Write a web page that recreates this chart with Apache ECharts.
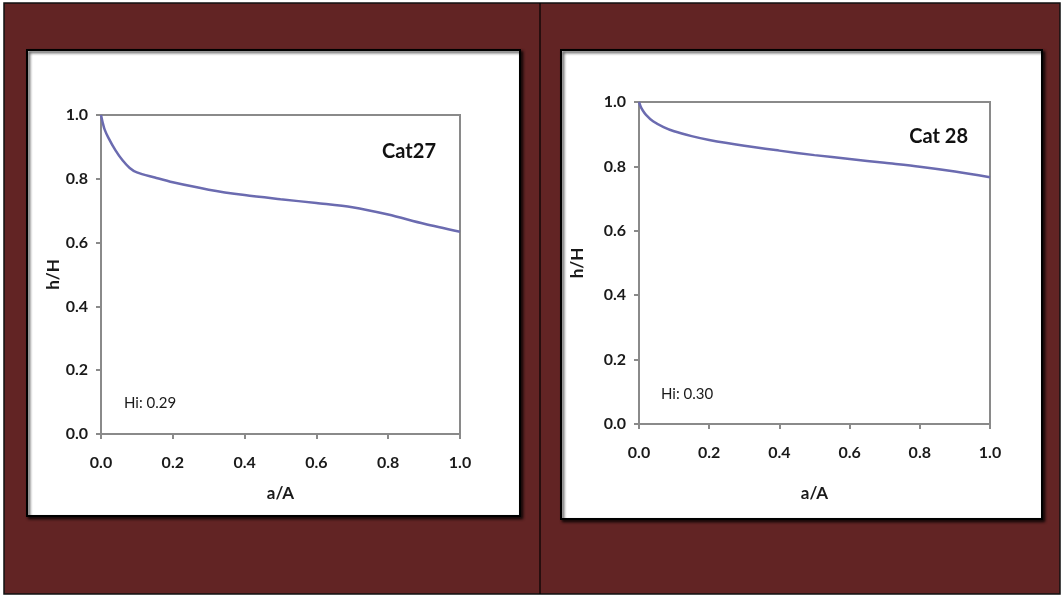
<!DOCTYPE html>
<html>
<head>
<meta charset="utf-8">
<script src="https://cdn.jsdelivr.net/npm/echarts@6/dist/echarts.min.js"></script>
<style>
html,body{margin:0;padding:0;background:#fff;}
#c{width:1062px;height:595px;}
</style>
</head>
<body>
<div id="c"></div>
<script>
// ---- data ----
const cat27X = [0, 0.005, 0.01, 0.02, 0.04, 0.06, 0.08, 0.1, 0.15, 0.2, 0.3, 0.4, 0.5, 0.6, 0.7, 0.8, 0.9, 1.0];
const cat27Y = [1.0, 0.975, 0.955, 0.93, 0.89, 0.858, 0.834, 0.82, 0.804, 0.789, 0.766, 0.749, 0.736, 0.724, 0.711, 0.688, 0.659, 0.634];
const cat28X = [0, 0.005, 0.01, 0.02, 0.04, 0.07, 0.1, 0.15, 0.2, 0.3, 0.4, 0.5, 0.6, 0.7, 0.8, 0.9, 1.0];
const cat28Y = [1.0, 0.985, 0.975, 0.96, 0.94, 0.922, 0.909, 0.894, 0.882, 0.864, 0.849, 0.835, 0.823, 0.811, 0.799, 0.784, 0.766];
const chartTitles = ['Cat27', 'Cat 28'];
const hiLabels = ['Hi: 0.29', 'Hi: 0.30'];
const xName = 'a/A';
const yName = 'h/H';

const pairs = (xs, ys) => xs.map((x, i) => [x, ys[i]]);

const FONT = 'Lato, "Open Sans", sans-serif';
const AXIS_GRAY = '#8a8a8a';
const LINE_COLOR = '#6b6bb0';

function xAxis(gridIndex, gap) {
  return {
    gridIndex, type: 'value', min: 0, max: 1, interval: 0.2,
    name: xName, nameLocation: 'middle', nameGap: gap,
    nameTextStyle: {fontFamily: FONT, fontWeight: 'bold', fontSize: 17, color: '#1a1a1a'},
    axisLine: {show: true, lineStyle: {color: AXIS_GRAY, width: 2}},
    axisTick: {show: true, length: 5, lineStyle: {color: AXIS_GRAY, width: 2}},
    axisLabel: {margin: 21, fontFamily: FONT, fontWeight: 'bold', fontSize: 16, color: '#1a1a1a',
      formatter: v => v.toFixed(1)},
    splitLine: {show: false}
  };
}
function yAxis(gridIndex, gap) {
  return {
    gridIndex, type: 'value', min: 0, max: 1, interval: 0.2,
    name: yName, nameLocation: 'middle', nameGap: gap, nameRotate: 90,
    nameTextStyle: {fontFamily: FONT, fontWeight: 'bold', fontSize: 17, color: '#1a1a1a'},
    axisLine: {show: true, lineStyle: {color: AXIS_GRAY, width: 2}},
    axisTick: {show: true, length: 5, lineStyle: {color: AXIS_GRAY, width: 2}},
    axisLabel: {margin: 13, fontFamily: FONT, fontWeight: 'bold', fontSize: 16, color: '#1a1a1a',
      formatter: v => v.toFixed(1)},
    splitLine: {show: false}
  };
}

const chart = echarts.init(document.getElementById('c'), null, {renderer: 'canvas'});
chart.setOption({
  animation: false,
  backgroundColor: '#ffffff',
  graphic: [
    {type: 'rect', shape: {x: 4, y: 3, width: 1056, height: 591},
     style: {fill: '#622424', stroke: '#111', lineWidth: 1.5}, z: -10},
    {type: 'line', shape: {x1: 540, y1: 3, x2: 540, y2: 594},
     style: {stroke: '#000', lineWidth: 1.2}, z: -9},
    {type: 'rect', shape: {x: 27, y: 50, width: 493, height: 466},
     style: {fill: '#fff', stroke: '#000', lineWidth: 2, shadowBlur: 3, shadowOffsetX: 2, shadowOffsetY: 2, shadowColor: 'rgba(0,0,0,0.8)'}, z: -8},
    {type: 'rect', shape: {x: 561, y: 50, width: 481, height: 469},
     style: {fill: '#fff', stroke: '#000', lineWidth: 2, shadowBlur: 3, shadowOffsetX: 2, shadowOffsetY: 2, shadowColor: 'rgba(0,0,0,0.8)'}, z: -8}
  ],
  title: [
    {text: chartTitles[0], right: 1062 - 441, top: 137,
     textStyle: {fontFamily: FONT, fontWeight: 'bold', fontSize: 20, color: '#111'}},
    {text: chartTitles[1], right: 1062 - 973, top: 122,
     textStyle: {fontFamily: FONT, fontWeight: 'bold', fontSize: 20, color: '#111'}},
    {text: hiLabels[0], left: 119, top: 391,
     textStyle: {fontFamily: FONT, fontWeight: 'normal', fontSize: 15, color: '#1a1a1a'}},
    {text: hiLabels[1], left: 656, top: 382,
     textStyle: {fontFamily: FONT, fontWeight: 'normal', fontSize: 15, color: '#1a1a1a'}}
  ],
  grid: [
    {left: 101, top: 115, width: 359, height: 319, show: true, borderColor: AXIS_GRAY, borderWidth: 2, backgroundColor: 'transparent'},
    {left: 639, top: 102, width: 351, height: 322, show: true, borderColor: AXIS_GRAY, borderWidth: 2, backgroundColor: 'transparent'}
  ],
  xAxis: [xAxis(0, 51), xAxis(1, 61)],
  yAxis: [yAxis(0, 33), yAxis(1, 53)],
  series: [
    {type: 'line', xAxisIndex: 0, yAxisIndex: 0, data: pairs(cat27X, cat27Y), showSymbol: false,
     smooth: 0.3, lineStyle: {color: LINE_COLOR, width: 2.5}},
    {type: 'line', xAxisIndex: 1, yAxisIndex: 1, data: pairs(cat28X, cat28Y), showSymbol: false,
     smooth: 0.3, lineStyle: {color: LINE_COLOR, width: 2.5}}
  ]
});
</script>
</body>
</html>
